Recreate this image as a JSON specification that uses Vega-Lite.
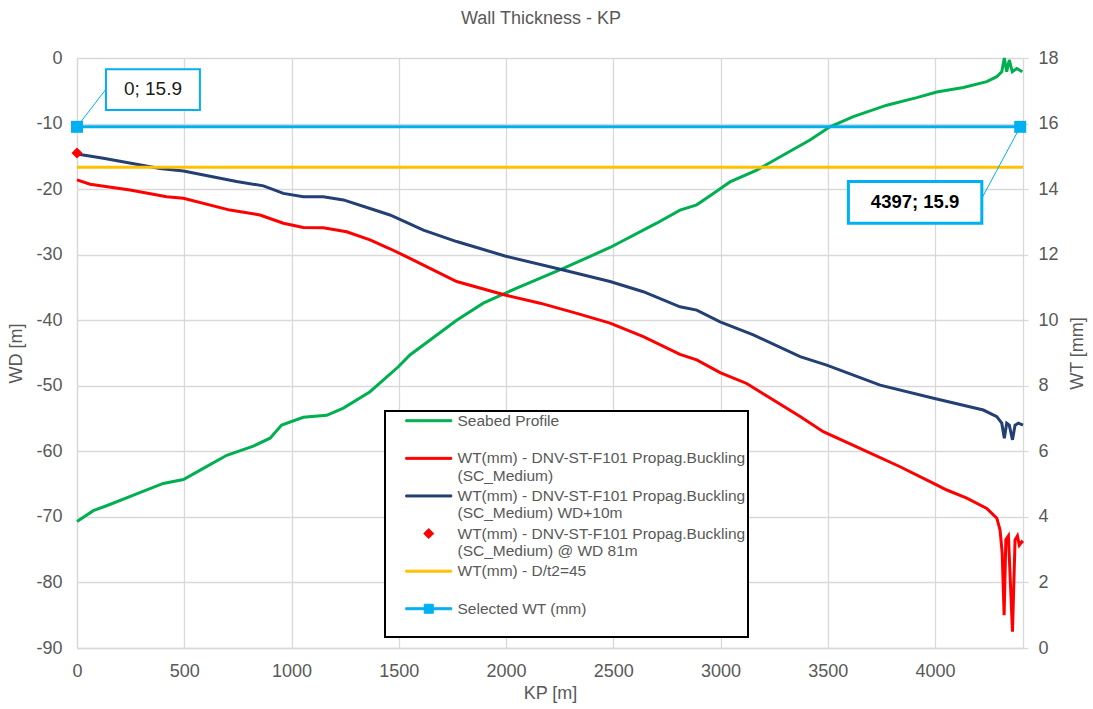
{
  "$schema": "https://vega.github.io/schema/vega-lite/v6.json",
  "width": 946,
  "height": 590,
  "autosize": {"type": "none"},
  "padding": {"left": 77, "top": 58, "right": 70, "bottom": 61},
  "background": "#FFFFFF",
  "title": {"text": "Wall Thickness  - KP", "fontSize": 18, "fontWeight": "normal", "color": "#595959", "font": "Liberation Sans", "offset": 21, "dx": -9},
  "config": {
    "font": "Liberation Sans",
    "view": {"stroke": null},
    "axis": {
      "gridColor": "#D9D9D9", "gridWidth": 1.3, "domainColor": "#D9D9D9", "domainWidth": 1.3,
      "tickColor": "#D9D9D9", "tickWidth": 1.3, "labelFlush": false,
      "labelFont": "Liberation Sans", "labelFontSize": 18, "labelColor": "#595959",
      "titleFont": "Liberation Sans", "titleFontSize": 18, "titleColor": "#595959", "titleFontWeight": "normal"
    },
    "legend": {
      "title": null, "orient": "none", "legendX": 308, "legendY": 353, "direction": "vertical",
      "padding": 2, "symbolOffset": 34, "labelOffset": 21, "rowPadding": 3.6,
      "strokeColor": "#000000", "fillColor": "#FFFFFF", "strokeWidth": 2,
      "labelFont": "Liberation Sans", "labelFontSize": 15.5, "labelColor": "#595959", "labelLimit": 600, "labelBaseline": "middle",
      "symbolSize": 121, "symbolStrokeWidth": 1, "symbolOpacity": 1
    }
  },
  "datasets": {
    "seabed": [
      {"kp": 0, "wd": -70.7, "series": "Seabed Profile"},
      {"kp": 76, "wd": -69.05, "series": "Seabed Profile"},
      {"kp": 138, "wd": -68.3, "series": "Seabed Profile"},
      {"kp": 278, "wd": -66.5, "series": "Seabed Profile"},
      {"kp": 402, "wd": -64.9, "series": "Seabed Profile"},
      {"kp": 496, "wd": -64.3, "series": "Seabed Profile"},
      {"kp": 589, "wd": -62.6, "series": "Seabed Profile"},
      {"kp": 698, "wd": -60.6, "series": "Seabed Profile"},
      {"kp": 822, "wd": -59.2, "series": "Seabed Profile"},
      {"kp": 900, "wd": -58.0, "series": "Seabed Profile"},
      {"kp": 954, "wd": -56.0, "series": "Seabed Profile"},
      {"kp": 1055, "wd": -54.8, "series": "Seabed Profile"},
      {"kp": 1164, "wd": -54.5, "series": "Seabed Profile"},
      {"kp": 1242, "wd": -53.4, "series": "Seabed Profile"},
      {"kp": 1366, "wd": -50.9, "series": "Seabed Profile"},
      {"kp": 1498, "wd": -47.1, "series": "Seabed Profile"},
      {"kp": 1552, "wd": -45.3, "series": "Seabed Profile"},
      {"kp": 1770, "wd": -40.0, "series": "Seabed Profile"},
      {"kp": 1894, "wd": -37.4, "series": "Seabed Profile"},
      {"kp": 1995, "wd": -35.9, "series": "Seabed Profile"},
      {"kp": 2050, "wd": -35.1, "series": "Seabed Profile"},
      {"kp": 2267, "wd": -32.1, "series": "Seabed Profile"},
      {"kp": 2485, "wd": -28.9, "series": "Seabed Profile"},
      {"kp": 2702, "wd": -25.2, "series": "Seabed Profile"},
      {"kp": 2811, "wd": -23.2, "series": "Seabed Profile"},
      {"kp": 2889, "wd": -22.4, "series": "Seabed Profile"},
      {"kp": 2951, "wd": -21.0, "series": "Seabed Profile"},
      {"kp": 3000, "wd": -19.9, "series": "Seabed Profile"},
      {"kp": 3044, "wd": -18.9, "series": "Seabed Profile"},
      {"kp": 3169, "wd": -17.1, "series": "Seabed Profile"},
      {"kp": 3293, "wd": -14.8, "series": "Seabed Profile"},
      {"kp": 3417, "wd": -12.5, "series": "Seabed Profile"},
      {"kp": 3510, "wd": -10.5, "series": "Seabed Profile"},
      {"kp": 3619, "wd": -8.95, "series": "Seabed Profile"},
      {"kp": 3775, "wd": -7.2, "series": "Seabed Profile"},
      {"kp": 3915, "wd": -6.05, "series": "Seabed Profile"},
      {"kp": 4008, "wd": -5.2, "series": "Seabed Profile"},
      {"kp": 4132, "wd": -4.5, "series": "Seabed Profile"},
      {"kp": 4241, "wd": -3.6, "series": "Seabed Profile"},
      {"kp": 4288, "wd": -2.85, "series": "Seabed Profile"},
      {"kp": 4311, "wd": -2.1, "series": "Seabed Profile"},
      {"kp": 4323, "wd": 0, "series": "Seabed Profile"},
      {"kp": 4334, "wd": -2.1, "series": "Seabed Profile"},
      {"kp": 4346, "wd": -0.3, "series": "Seabed Profile"},
      {"kp": 4360, "wd": -2.1, "series": "Seabed Profile"},
      {"kp": 4381, "wd": -1.6, "series": "Seabed Profile"},
      {"kp": 4407, "wd": -2.1, "series": "Seabed Profile"}
    ],
    "wtlines": [
      {"kp": 0, "wt": 14.28, "series": "WT(mm) - DNV-ST-F101 Propag.Buckling (SC_Medium)"},
      {"kp": 61, "wt": 14.15, "series": "WT(mm) - DNV-ST-F101 Propag.Buckling (SC_Medium)"},
      {"kp": 247, "wt": 13.97, "series": "WT(mm) - DNV-ST-F101 Propag.Buckling (SC_Medium)"},
      {"kp": 418, "wt": 13.77, "series": "WT(mm) - DNV-ST-F101 Propag.Buckling (SC_Medium)"},
      {"kp": 496, "wt": 13.72, "series": "WT(mm) - DNV-ST-F101 Propag.Buckling (SC_Medium)"},
      {"kp": 713, "wt": 13.36, "series": "WT(mm) - DNV-ST-F101 Propag.Buckling (SC_Medium)"},
      {"kp": 853, "wt": 13.21, "series": "WT(mm) - DNV-ST-F101 Propag.Buckling (SC_Medium)"},
      {"kp": 962, "wt": 12.96, "series": "WT(mm) - DNV-ST-F101 Propag.Buckling (SC_Medium)"},
      {"kp": 1055, "wt": 12.83, "series": "WT(mm) - DNV-ST-F101 Propag.Buckling (SC_Medium)"},
      {"kp": 1148, "wt": 12.82, "series": "WT(mm) - DNV-ST-F101 Propag.Buckling (SC_Medium)"},
      {"kp": 1257, "wt": 12.70, "series": "WT(mm) - DNV-ST-F101 Propag.Buckling (SC_Medium)"},
      {"kp": 1366, "wt": 12.45, "series": "WT(mm) - DNV-ST-F101 Propag.Buckling (SC_Medium)"},
      {"kp": 1459, "wt": 12.18, "series": "WT(mm) - DNV-ST-F101 Propag.Buckling (SC_Medium)"},
      {"kp": 1552, "wt": 11.89, "series": "WT(mm) - DNV-ST-F101 Propag.Buckling (SC_Medium)"},
      {"kp": 1770, "wt": 11.18, "series": "WT(mm) - DNV-ST-F101 Propag.Buckling (SC_Medium)"},
      {"kp": 1995, "wt": 10.77, "series": "WT(mm) - DNV-ST-F101 Propag.Buckling (SC_Medium)"},
      {"kp": 2159, "wt": 10.52, "series": "WT(mm) - DNV-ST-F101 Propag.Buckling (SC_Medium)"},
      {"kp": 2330, "wt": 10.21, "series": "WT(mm) - DNV-ST-F101 Propag.Buckling (SC_Medium)"},
      {"kp": 2485, "wt": 9.91, "series": "WT(mm) - DNV-ST-F101 Propag.Buckling (SC_Medium)"},
      {"kp": 2640, "wt": 9.50, "series": "WT(mm) - DNV-ST-F101 Propag.Buckling (SC_Medium)"},
      {"kp": 2811, "wt": 8.96, "series": "WT(mm) - DNV-ST-F101 Propag.Buckling (SC_Medium)"},
      {"kp": 2889, "wt": 8.79, "series": "WT(mm) - DNV-ST-F101 Propag.Buckling (SC_Medium)"},
      {"kp": 2998, "wt": 8.40, "series": "WT(mm) - DNV-ST-F101 Propag.Buckling (SC_Medium)"},
      {"kp": 3122, "wt": 8.07, "series": "WT(mm) - DNV-ST-F101 Propag.Buckling (SC_Medium)"},
      {"kp": 3371, "wt": 7.06, "series": "WT(mm) - DNV-ST-F101 Propag.Buckling (SC_Medium)"},
      {"kp": 3479, "wt": 6.60, "series": "WT(mm) - DNV-ST-F101 Propag.Buckling (SC_Medium)"},
      {"kp": 3650, "wt": 6.09, "series": "WT(mm) - DNV-ST-F101 Propag.Buckling (SC_Medium)"},
      {"kp": 3837, "wt": 5.53, "series": "WT(mm) - DNV-ST-F101 Propag.Buckling (SC_Medium)"},
      {"kp": 3993, "wt": 5.02, "series": "WT(mm) - DNV-ST-F101 Propag.Buckling (SC_Medium)"},
      {"kp": 4055, "wt": 4.82, "series": "WT(mm) - DNV-ST-F101 Propag.Buckling (SC_Medium)"},
      {"kp": 4148, "wt": 4.57, "series": "WT(mm) - DNV-ST-F101 Propag.Buckling (SC_Medium)"},
      {"kp": 4241, "wt": 4.26, "series": "WT(mm) - DNV-ST-F101 Propag.Buckling (SC_Medium)"},
      {"kp": 4288, "wt": 3.96, "series": "WT(mm) - DNV-ST-F101 Propag.Buckling (SC_Medium)"},
      {"kp": 4303, "wt": 3.6, "series": "WT(mm) - DNV-ST-F101 Propag.Buckling (SC_Medium)"},
      {"kp": 4313, "wt": 2.9, "series": "WT(mm) - DNV-ST-F101 Propag.Buckling (SC_Medium)"},
      {"kp": 4322, "wt": 1.0, "series": "WT(mm) - DNV-ST-F101 Propag.Buckling (SC_Medium)"},
      {"kp": 4330, "wt": 3.3, "series": "WT(mm) - DNV-ST-F101 Propag.Buckling (SC_Medium)"},
      {"kp": 4342, "wt": 3.42, "series": "WT(mm) - DNV-ST-F101 Propag.Buckling (SC_Medium)"},
      {"kp": 4361, "wt": 0.5, "series": "WT(mm) - DNV-ST-F101 Propag.Buckling (SC_Medium)"},
      {"kp": 4373, "wt": 3.3, "series": "WT(mm) - DNV-ST-F101 Propag.Buckling (SC_Medium)"},
      {"kp": 4384, "wt": 3.42, "series": "WT(mm) - DNV-ST-F101 Propag.Buckling (SC_Medium)"},
      {"kp": 4393, "wt": 3.14, "series": "WT(mm) - DNV-ST-F101 Propag.Buckling (SC_Medium)"},
      {"kp": 4404, "wt": 3.24, "series": "WT(mm) - DNV-ST-F101 Propag.Buckling (SC_Medium)"},
      {"kp": 4410, "wt": 3.2, "series": "WT(mm) - DNV-ST-F101 Propag.Buckling (SC_Medium)"},
      {"kp": 0, "wt": 15.07, "series": "WT(mm) - DNV-ST-F101 Propag.Buckling (SC_Medium) WD+10m"},
      {"kp": 123, "wt": 14.94, "series": "WT(mm) - DNV-ST-F101 Propag.Buckling (SC_Medium) WD+10m"},
      {"kp": 387, "wt": 14.63, "series": "WT(mm) - DNV-ST-F101 Propag.Buckling (SC_Medium) WD+10m"},
      {"kp": 496, "wt": 14.55, "series": "WT(mm) - DNV-ST-F101 Propag.Buckling (SC_Medium) WD+10m"},
      {"kp": 744, "wt": 14.23, "series": "WT(mm) - DNV-ST-F101 Propag.Buckling (SC_Medium) WD+10m"},
      {"kp": 869, "wt": 14.10, "series": "WT(mm) - DNV-ST-F101 Propag.Buckling (SC_Medium) WD+10m"},
      {"kp": 962, "wt": 13.87, "series": "WT(mm) - DNV-ST-F101 Propag.Buckling (SC_Medium) WD+10m"},
      {"kp": 1055, "wt": 13.77, "series": "WT(mm) - DNV-ST-F101 Propag.Buckling (SC_Medium) WD+10m"},
      {"kp": 1148, "wt": 13.77, "series": "WT(mm) - DNV-ST-F101 Propag.Buckling (SC_Medium) WD+10m"},
      {"kp": 1242, "wt": 13.67, "series": "WT(mm) - DNV-ST-F101 Propag.Buckling (SC_Medium) WD+10m"},
      {"kp": 1366, "wt": 13.41, "series": "WT(mm) - DNV-ST-F101 Propag.Buckling (SC_Medium) WD+10m"},
      {"kp": 1459, "wt": 13.21, "series": "WT(mm) - DNV-ST-F101 Propag.Buckling (SC_Medium) WD+10m"},
      {"kp": 1615, "wt": 12.75, "series": "WT(mm) - DNV-ST-F101 Propag.Buckling (SC_Medium) WD+10m"},
      {"kp": 1770, "wt": 12.40, "series": "WT(mm) - DNV-ST-F101 Propag.Buckling (SC_Medium) WD+10m"},
      {"kp": 1995, "wt": 11.96, "series": "WT(mm) - DNV-ST-F101 Propag.Buckling (SC_Medium) WD+10m"},
      {"kp": 2267, "wt": 11.53, "series": "WT(mm) - DNV-ST-F101 Propag.Buckling (SC_Medium) WD+10m"},
      {"kp": 2485, "wt": 11.18, "series": "WT(mm) - DNV-ST-F101 Propag.Buckling (SC_Medium) WD+10m"},
      {"kp": 2640, "wt": 10.87, "series": "WT(mm) - DNV-ST-F101 Propag.Buckling (SC_Medium) WD+10m"},
      {"kp": 2811, "wt": 10.41, "series": "WT(mm) - DNV-ST-F101 Propag.Buckling (SC_Medium) WD+10m"},
      {"kp": 2889, "wt": 10.31, "series": "WT(mm) - DNV-ST-F101 Propag.Buckling (SC_Medium) WD+10m"},
      {"kp": 2998, "wt": 9.95, "series": "WT(mm) - DNV-ST-F101 Propag.Buckling (SC_Medium) WD+10m"},
      {"kp": 3153, "wt": 9.55, "series": "WT(mm) - DNV-ST-F101 Propag.Buckling (SC_Medium) WD+10m"},
      {"kp": 3371, "wt": 8.89, "series": "WT(mm) - DNV-ST-F101 Propag.Buckling (SC_Medium) WD+10m"},
      {"kp": 3495, "wt": 8.63, "series": "WT(mm) - DNV-ST-F101 Propag.Buckling (SC_Medium) WD+10m"},
      {"kp": 3744, "wt": 8.02, "series": "WT(mm) - DNV-ST-F101 Propag.Buckling (SC_Medium) WD+10m"},
      {"kp": 3993, "wt": 7.62, "series": "WT(mm) - DNV-ST-F101 Propag.Buckling (SC_Medium) WD+10m"},
      {"kp": 4225, "wt": 7.26, "series": "WT(mm) - DNV-ST-F101 Propag.Buckling (SC_Medium) WD+10m"},
      {"kp": 4288, "wt": 7.06, "series": "WT(mm) - DNV-ST-F101 Propag.Buckling (SC_Medium) WD+10m"},
      {"kp": 4311, "wt": 6.86, "series": "WT(mm) - DNV-ST-F101 Propag.Buckling (SC_Medium) WD+10m"},
      {"kp": 4323, "wt": 6.40, "series": "WT(mm) - DNV-ST-F101 Propag.Buckling (SC_Medium) WD+10m"},
      {"kp": 4334, "wt": 6.86, "series": "WT(mm) - DNV-ST-F101 Propag.Buckling (SC_Medium) WD+10m"},
      {"kp": 4346, "wt": 6.8, "series": "WT(mm) - DNV-ST-F101 Propag.Buckling (SC_Medium) WD+10m"},
      {"kp": 4361, "wt": 6.35, "series": "WT(mm) - DNV-ST-F101 Propag.Buckling (SC_Medium) WD+10m"},
      {"kp": 4373, "wt": 6.8, "series": "WT(mm) - DNV-ST-F101 Propag.Buckling (SC_Medium) WD+10m"},
      {"kp": 4389, "wt": 6.86, "series": "WT(mm) - DNV-ST-F101 Propag.Buckling (SC_Medium) WD+10m"},
      {"kp": 4410, "wt": 6.8, "series": "WT(mm) - DNV-ST-F101 Propag.Buckling (SC_Medium) WD+10m"},
      {"kp": 0, "wt": 14.67, "series": "WT(mm) -  D/t2=45"},
      {"kp": 4410, "wt": 14.67, "series": "WT(mm) -  D/t2=45"},
      {"kp": 0, "wt": 15.9, "series": "Selected WT (mm)"},
      {"kp": 4397, "wt": 15.9, "series": "Selected WT (mm)"}
    ],
    "wd81": [{"kp": 0, "wt": 15.1}],
    "selected_pts": [{"kp": 0, "wt": 15.9}, {"kp": 4397, "wt": 15.9}],
    "callout_leader": [
      {"kp": 0, "wt": 15.9, "kp2": 135, "wt2": 17.05},
      {"kp": 4397, "wt": 15.9, "kp2": 4218, "wt2": 13.72}
    ],
    "callout_box": [
      {"kp": 135, "kp2": 573, "wt": 16.41, "wt2": 17.66, "label": "0; 15.9"},
      {"kp": 3596, "kp2": 4218, "wt": 12.96, "wt2": 14.23, "label": "4397; 15.9"}
    ],
    "callout_text": [
      {"kp": 354, "wt": 17.04, "label": "0; 15.9"},
      {"kp": 3907, "wt": 13.6, "label": "4397; 15.9"}
    ]
  },
  "resolve": {"scale": {"y": "independent"}},
  "layer": [
    {
      "data": {"name": "seabed"},
      "mark": {"type": "line", "strokeWidth": 3, "interpolate": "linear"},
      "encoding": {
        "x": {"field": "kp", "type": "quantitative", "scale": {"domain": [0, 4410], "nice": false, "zero": false},
              "axis": {"title": "KP [m]", "format": "d", "values": [0, 500, 1000, 1500, 2000, 2500, 3000, 3500, 4000], "grid": true, "ticks": false, "labelPadding": 14, "titlePadding": 4}},
        "y": {"field": "wd", "type": "quantitative", "scale": {"domain": [-90, 0], "nice": false, "zero": false},
              "axis": {"orient": "left", "title": "WD [m]", "values": [-90, -80, -70, -60, -50, -40, -30, -20, -10, 0], "grid": true, "ticks": false, "labelPadding": 15, "titlePadding": 10,
                       "labelExpr": "datum.value < 0 ? '-' + (-datum.value) : '' + datum.value"}},
        "color": {"field": "series", "type": "nominal",
          "scale": {"domain": ["Seabed Profile", "WT(mm) - DNV-ST-F101 Propag.Buckling (SC_Medium)", "WT(mm) - DNV-ST-F101 Propag.Buckling (SC_Medium) WD+10m", "WT(mm) - DNV-ST-F101 Propag.Buckling (SC_Medium) @ WD 81m", "WT(mm) -  D/t2=45", "Selected WT (mm)"],
                    "range": ["#00B050", "#FF0000", "#243F73", "#FF0000", "#FFC000", "#00B0F0"]},
          "legend": {"labelExpr": "indexof(datum.label, ' (SC') > 0 ? [substring(datum.label, 0, indexof(datum.label, ' (SC')), substring(datum.label, indexof(datum.label, ' (SC') + 1)] : [datum.label, '']"}
        }
      }
    },
    {
      "encoding": {
        "x": {"field": "kp", "type": "quantitative", "scale": {"domain": [0, 4410], "nice": false, "zero": false},
              "axis": {"title": "KP [m]", "format": "d", "values": [0, 500, 1000, 1500, 2000, 2500, 3000, 3500, 4000], "grid": true, "ticks": false, "labelPadding": 14, "titlePadding": 4}},
        "y": {"field": "wt", "type": "quantitative", "scale": {"domain": [0, 18], "nice": false, "zero": false},
              "axis": {"orient": "right", "title": "WT [mm]", "values": [0, 2, 4, 6, 8, 10, 12, 14, 16, 18], "grid": false, "ticks": true, "tickSize": 5, "labelPadding": 10, "titlePadding": 28, "titleAngle": 270}}
      },
      "layer": [
        {
          "data": {"name": "wtlines"},
          "mark": {"type": "line", "strokeWidth": 3},
          "encoding": {
            "color": {"field": "series", "type": "nominal",
              "scale": {"domain": ["Seabed Profile", "WT(mm) - DNV-ST-F101 Propag.Buckling (SC_Medium)", "WT(mm) - DNV-ST-F101 Propag.Buckling (SC_Medium) WD+10m", "WT(mm) - DNV-ST-F101 Propag.Buckling (SC_Medium) @ WD 81m", "WT(mm) -  D/t2=45", "Selected WT (mm)"],
                        "range": ["#00B050", "#FF0000", "#243F73", "#FF0000", "#FFC000", "#00B0F0"]},
              "legend": {"labelExpr": "indexof(datum.label, ' (SC') > 0 ? [substring(datum.label, 0, indexof(datum.label, ' (SC')), substring(datum.label, indexof(datum.label, ' (SC') + 1)] : [datum.label, '']"}}
          }
        },
        {
          "data": {"name": "wtlines"},
          "transform": [{"filter": "datum.kp < 0"}],
          "mark": {"type": "point", "filled": true, "opacity": 1, "size": 121},
          "encoding": {
            "color": {"field": "series", "type": "nominal",
              "scale": {"domain": ["Seabed Profile", "WT(mm) - DNV-ST-F101 Propag.Buckling (SC_Medium)", "WT(mm) - DNV-ST-F101 Propag.Buckling (SC_Medium) WD+10m", "WT(mm) - DNV-ST-F101 Propag.Buckling (SC_Medium) @ WD 81m", "WT(mm) -  D/t2=45", "Selected WT (mm)"],
                        "range": ["#00B050", "#FF0000", "#243F73", "#FF0000", "#FFC000", "#00B0F0"]},
              "legend": {"labelExpr": "indexof(datum.label, ' (SC') > 0 ? [substring(datum.label, 0, indexof(datum.label, ' (SC')), substring(datum.label, indexof(datum.label, ' (SC') + 1)] : [datum.label, '']"}
            },
            "shape": {"field": "series", "type": "nominal",
              "scale": {"domain": ["Seabed Profile", "WT(mm) - DNV-ST-F101 Propag.Buckling (SC_Medium)", "WT(mm) - DNV-ST-F101 Propag.Buckling (SC_Medium) WD+10m", "WT(mm) - DNV-ST-F101 Propag.Buckling (SC_Medium) @ WD 81m", "WT(mm) -  D/t2=45", "Selected WT (mm)"],
                        "range": ["M-4.18,-0.18L4.18,-0.18L4.18,0.18L-4.18,0.18Z", "M-4.18,-0.18L4.18,-0.18L4.18,0.18L-4.18,0.18Z", "M-4.18,-0.18L4.18,-0.18L4.18,0.18L-4.18,0.18Z", "M0,-0.91L0.91,0L0,0.91L-0.91,0Z", "M-4.18,-0.18L4.18,-0.18L4.18,0.18L-4.18,0.18Z", "M-4.18,-0.18L4.18,-0.18L4.18,0.18L-4.18,0.18ZM-0.82,-0.82L0.82,-0.82L0.82,0.82L-0.82,0.82Z"]},
              "legend": {"labelExpr": "indexof(datum.label, ' (SC') > 0 ? [substring(datum.label, 0, indexof(datum.label, ' (SC')), substring(datum.label, indexof(datum.label, ' (SC') + 1)] : [datum.label, '']"}
            }
          }
        },
        {
          "data": {"name": "wd81"},
          "mark": {"type": "point", "shape": "diamond", "filled": true, "size": 121, "color": "#FF0000", "opacity": 1}
        },
        {
          "data": {"name": "selected_pts"},
          "mark": {"type": "point", "shape": "square", "filled": true, "size": 144, "color": "#00B0F0", "opacity": 1}
        },
        {
          "data": {"name": "callout_leader"},
          "mark": {"type": "rule", "color": "#00B0F0", "strokeWidth": 1},
          "encoding": {"x2": {"field": "kp2"}, "y2": {"field": "wt2"}}
        },
        {
          "data": {"name": "callout_box"},
          "mark": {"type": "rect", "fill": "#FFFFFF", "stroke": "#00B0F0"},
          "encoding": {
            "x2": {"field": "kp2"}, "y2": {"field": "wt2"},
            "strokeWidth": {"condition": {"test": "datum.label === '4397; 15.9'", "value": 3}, "value": 2}
          }
        },
        {
          "data": {"name": "callout_text"},
          "transform": [{"filter": "datum.label === '0; 15.9'"}],
          "mark": {"type": "text", "fontSize": 19, "color": "#1A1A1A", "font": "Liberation Sans", "align": "center", "baseline": "middle"},
          "encoding": {"text": {"field": "label"}}
        },
        {
          "data": {"name": "callout_text"},
          "transform": [{"filter": "datum.label === '4397; 15.9'"}],
          "mark": {"type": "text", "fontSize": 18.5, "fontWeight": "bold", "color": "#000000", "font": "Liberation Sans", "align": "center", "baseline": "middle"},
          "encoding": {"text": {"field": "label"}}
        }
      ]
    }
  ]
}
